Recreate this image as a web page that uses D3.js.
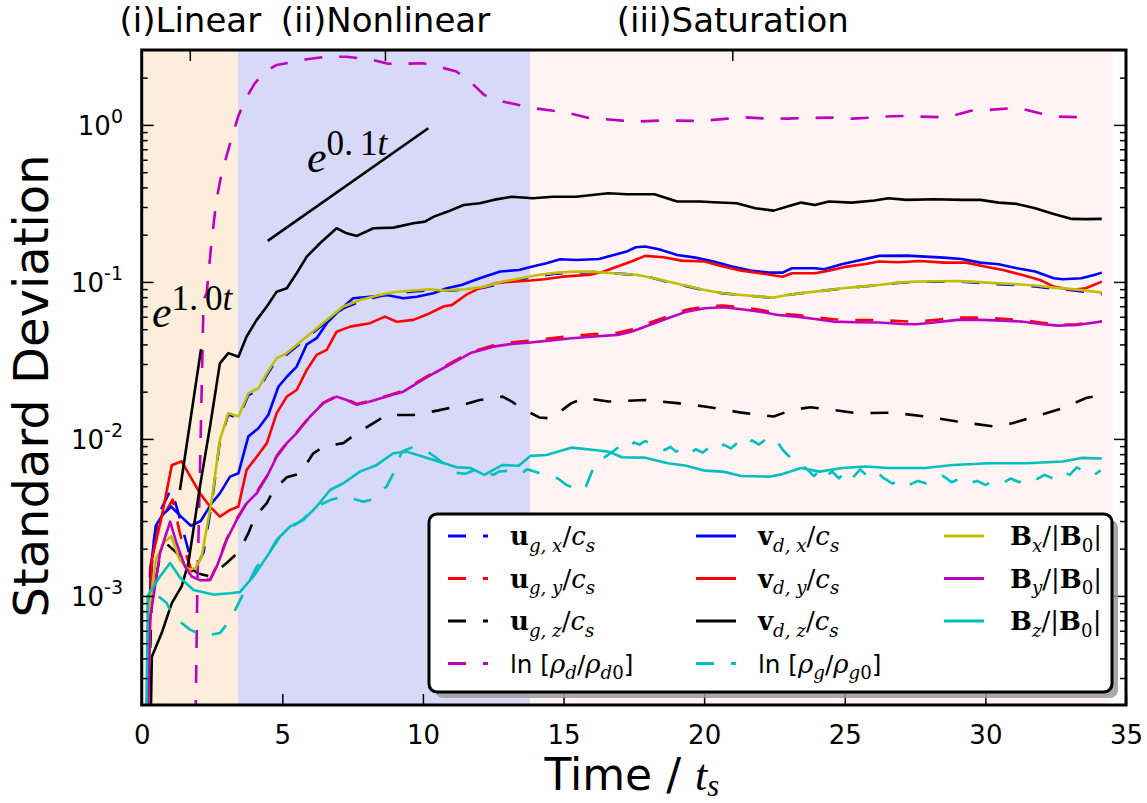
<!DOCTYPE html>
<html><head><meta charset="utf-8">
<script src="https://cdn.jsdelivr.net/npm/d3@7"></script>
<style>body{margin:0;background:#fff}</style>
</head><body><svg id="c" width="1147" height="803"></svg>
<script>
// ---------------- DATA ----------------
const xTicks = [0, 5, 10, 15, 20, 25, 30, 35];
const yExps = [-3, -2, -1, 0];
const phaseNames = ["(i)Linear", "(ii)Nonlinear", "(iii)Saturation"];
const phaseStart = [0, 3.42, 13.81];
const phaseEnd = [3.42, 13.81, 34.53];
const phaseTicks = [1.71, 8.65, 21.0];

const ugX = [[0.15,1e-4],[0.3,0.0012],[0.45,0.0024],[0.7,0.0036],[1.05,0.0048],[1.3,0.0034],[1.5,0.0025],[1.75,0.0017],[2.0,0.0016],[2.2,0.0019],[2.5,0.004],[2.78,0.0097],[3.08,0.0143],[3.44,0.0135],[3.79,0.019],[4.15,0.0205],[4.45,0.0255],[4.8,0.032],[5.16,0.0345],[5.87,0.044],[6.58,0.056],[7.17,0.068],[7.76,0.075],[8.47,0.081],[8.95,0.0845],[9.66,0.087],[10.25,0.0885],[10.96,0.088],[11.53,0.0895],[12.18,0.092],[12.83,0.0985],[13.49,0.104],[14.14,0.109],[14.79,0.113],[15.45,0.115],[16.1,0.1155],[16.75,0.1135],[17.57,0.111],[18.06,0.107],[18.71,0.1],[19.37,0.094],[20.02,0.0885],[20.67,0.0845],[21.33,0.0825],[21.98,0.0805],[22.47,0.0792],[22.96,0.0825],[23.61,0.0855],[24.27,0.088],[24.92,0.091],[25.57,0.0932],[26.22,0.0955],[26.88,0.0985],[27.53,0.1],[28.18,0.1005],[29.0,0.1005],[29.66,0.099],[30.31,0.097],[31.12,0.0955],[31.77,0.0935],[32.43,0.0905],[33.08,0.0885],[33.57,0.0865],[34.14,0.0835]];
const ugY = [[0.15,1e-4],[0.3,0.0015],[0.5,0.0025],[0.8,0.0033],[1.1,0.0041],[1.36,0.0025],[1.55,0.0019],[1.8,0.0014],[2.07,0.00128],[2.43,0.00127],[2.67,0.00156],[3.02,0.0023],[3.38,0.0031],[3.73,0.0039],[4.09,0.0046],[4.45,0.0058],[4.8,0.0078],[5.16,0.0095],[5.51,0.011],[5.99,0.014],[6.46,0.017],[6.93,0.0188],[7.29,0.0179],[7.65,0.0167],[8.12,0.0175],[8.71,0.0188],[9.3,0.0203],[9.78,0.0229],[10.39,0.0266],[11.04,0.0308],[11.69,0.0358],[12.51,0.0395],[13.16,0.0413],[13.82,0.0423],[14.47,0.0436],[15.28,0.0452],[16.1,0.0465],[16.92,0.0475],[17.41,0.0497],[18.06,0.055],[18.71,0.0605],[19.37,0.0665],[20.02,0.0698],[20.67,0.0708],[21.33,0.0688],[21.98,0.0665],[22.63,0.0632],[23.29,0.0615],[23.94,0.0597],[24.59,0.0578],[25.41,0.0572],[26.22,0.0572],[27.04,0.0562],[27.53,0.0558],[28.18,0.0572],[29.0,0.0592],[29.82,0.0592],[30.63,0.0582],[31.29,0.0572],[31.94,0.0552],[32.59,0.0535],[33.25,0.0538],[34.14,0.0562]];
const ugZ = [[0.2,1e-4],[0.35,0.0009],[0.65,0.0018],[0.95,0.0021],[1.36,0.0018],[1.66,0.00154],[2.01,0.00139],[2.43,0.00133],[3.02,0.00162],[3.44,0.0019],[3.79,0.0025],[4.03,0.0032],[4.45,0.0039],[4.68,0.0047],[5.16,0.0057],[5.63,0.006],[6.1,0.0081],[6.46,0.0089],[7.17,0.0094],[7.65,0.0109],[8.24,0.0126],[8.71,0.0142],[9.66,0.0142],[10.55,0.0152],[11.2,0.0161],[12.02,0.0177],[12.83,0.0186],[13.16,0.0173],[13.49,0.0157],[14.14,0.0137],[14.55,0.0135],[15.28,0.0169],[15.77,0.0182],[16.59,0.0173],[17.9,0.0177],[19.04,0.0169],[20.02,0.0161],[21.33,0.0147],[22.47,0.0139],[23.12,0.0153],[23.78,0.0159],[24.59,0.0153],[25.41,0.0146],[26.72,0.0147],[27.86,0.0139],[29.0,0.0129],[30.31,0.012],[30.96,0.0126],[31.77,0.0139],[32.76,0.0157],[33.57,0.0182],[34.14,0.0191]];
const lnRhoD = [[1.9,1e-4],[1.98,0.0012],[2.05,0.0041],[2.17,0.043],[2.2,0.077],[2.31,0.085],[2.49,0.185],[2.66,0.333],[2.84,0.492],[3.08,0.693],[3.25,0.885],[3.43,1.13],[3.67,1.44],[4.02,1.84],[4.38,2.18],[4.8,2.41],[5.27,2.49],[5.86,2.62],[6.57,2.72],[7.28,2.72],[8.23,2.59],[8.76,2.45],[9.29,2.45],[10.0,2.47],[10.55,2.35],[11.19,2.19],[11.61,1.94],[12.18,1.55],[12.83,1.41],[13.41,1.34],[13.9,1.28],[14.63,1.23],[15.12,1.2],[15.86,1.11],[16.43,1.09],[17.08,1.065],[17.57,1.05],[18.39,1.065],[19.04,1.065],[19.69,1.06],[20.18,1.07],[20.84,1.097],[21.33,1.12],[22.14,1.1],[22.96,1.097],[23.78,1.108],[24.59,1.113],[25.25,1.097],[25.9,1.113],[26.39,1.13],[27.04,1.14],[27.7,1.13],[28.35,1.12],[28.84,1.146],[29.49,1.23],[30.14,1.246],[30.96,1.28],[31.29,1.265],[31.94,1.187],[32.59,1.13],[33.33,1.12]];
const vdX = [[0.2,1e-4],[0.32,0.0015],[0.5,0.0028],[0.75,0.0033],[1.05,0.0037],[1.4,0.0032],[1.75,0.0028],[2.1,0.003],[2.49,0.0039],[2.78,0.0045],[3.14,0.00575],[3.44,0.00605],[3.79,0.01035],[4.15,0.0117],[4.5,0.0142],[4.86,0.0215],[5.16,0.0249],[5.51,0.0289],[5.87,0.04],[6.22,0.0438],[6.58,0.0546],[7.05,0.0663],[7.52,0.0787],[8.12,0.0805],[8.71,0.0826],[9.3,0.0787],[9.78,0.0805],[10.37,0.0847],[10.85,0.0912],[11.37,0.0957],[12.02,0.1055],[12.75,0.1164],[13.41,0.1192],[13.9,0.1252],[14.39,0.1315],[14.88,0.1394],[15.45,0.138],[16.26,0.14],[16.92,0.1508],[17.24,0.156],[17.57,0.1663],[17.9,0.168],[18.39,0.1616],[19.04,0.1486],[19.69,0.1428],[20.34,0.1348],[20.99,0.1252],[21.65,0.118],[22.3,0.1146],[22.79,0.1146],[23.12,0.1222],[23.94,0.1222],[24.27,0.1204],[24.92,0.13],[25.57,0.138],[26.22,0.1465],[27.2,0.147],[27.86,0.145],[28.51,0.1428],[29.16,0.14],[29.82,0.1327],[30.47,0.1297],[31.12,0.1222],[31.77,0.1164],[32.43,0.1055],[32.76,0.104],[33.41,0.1055],[33.9,0.111],[34.14,0.1146]];
const vdY = [[0.2,1e-4],[0.23,2.1e-4],[0.36,0.0017],[0.71,0.0032],[1.07,0.0068],[1.42,0.0072],[1.66,0.00605],[2.07,0.00451],[2.43,0.00371],[2.78,0.0032],[3.14,0.00353],[3.44,0.00371],[3.73,0.00635],[4.09,0.0077],[4.45,0.0094],[4.8,0.0146],[5.16,0.0186],[5.51,0.0205],[5.87,0.0275],[6.22,0.0343],[6.58,0.0369],[6.93,0.0482],[7.41,0.0519],[8.12,0.0546],[8.65,0.0601],[9.07,0.0558],[9.66,0.0573],[10.25,0.0632],[10.73,0.0697],[11.04,0.0714],[11.53,0.0826],[12.02,0.0912],[12.59,0.0982],[13.16,0.1005],[13.82,0.102],[14.31,0.104],[14.96,0.108],[15.94,0.111],[16.43,0.1164],[16.92,0.1252],[17.41,0.1348],[17.9,0.1465],[18.55,0.1436],[19.2,0.1367],[20.02,0.1348],[20.67,0.1252],[21.33,0.118],[21.98,0.1136],[22.79,0.108],[23.12,0.1136],[23.94,0.1136],[24.43,0.118],[25.08,0.1252],[25.74,0.13],[26.22,0.1348],[26.88,0.1334],[27.7,0.136],[28.51,0.1327],[29.33,0.1327],[29.98,0.1252],[30.63,0.1192],[31.29,0.111],[31.94,0.103],[32.43,0.0933],[33.08,0.0889],[33.57,0.0912],[34.14,0.1005]];
const vdZ = [[0.3,1e-4],[0.36,4.1e-4],[0.71,5.8e-4],[1.07,9e-4],[1.42,0.00115],[1.66,0.00162],[2.07,0.00497],[2.43,0.012],[2.78,0.0303],[3.08,0.0352],[3.44,0.0334],[3.73,0.0449],[4.09,0.0573],[4.45,0.0697],[4.8,0.0867],[5.16,0.0912],[5.51,0.1136],[5.87,0.145],[6.34,0.1764],[6.93,0.2198],[7.29,0.204],[7.65,0.1963],[8.24,0.2198],[8.95,0.2217],[9.66,0.2366],[10.07,0.2422],[10.39,0.2606],[10.88,0.2805],[11.45,0.309],[12.02,0.317],[12.51,0.333],[13.16,0.349],[13.9,0.341],[14.63,0.349],[15.45,0.349],[16.26,0.362],[16.59,0.367],[17.24,0.362],[18.23,0.362],[19.04,0.325],[19.85,0.325],[20.34,0.322],[21.16,0.317],[21.82,0.2946],[22.47,0.2845],[22.96,0.302],[23.45,0.32],[23.94,0.309],[24.43,0.325],[25.25,0.32],[26.06,0.33],[26.55,0.341],[27.2,0.333],[28.18,0.336],[29.16,0.333],[29.82,0.333],[30.47,0.32],[31.12,0.314],[31.77,0.2946],[32.43,0.271],[33.08,0.252],[33.57,0.251],[34.14,0.252]];
const lnRhoG = [[0.2,1e-4],[0.22,0.001],[0.3,0.0011],[0.89,9e-4],[1.12,7.4e-4],[1.72,6.1e-4],[2.19,5.55e-4],[2.78,5.8e-4],[3.14,7e-4],[3.5,9.4e-4],[4.09,0.00154],[4.45,0.00178],[4.8,0.00227],[5.16,0.00263],[5.63,0.00297],[6.22,0.00371],[6.7,0.00408],[7.17,0.00432],[7.88,0.00398],[8.12,0.00408],[8.71,0.00498],[8.95,0.00605],[9.25,0.0083],[9.66,0.0089],[10.25,0.0081],[10.73,0.007],[11.1,0.0061],[11.5,0.006],[11.8,0.0063],[12.2,0.0062],[12.5,0.0059],[12.7,0.0062],[13.2,0.0063],[13.5,0.006],[13.7,0.0064],[14.1,0.0061],[14.4,0.0059],[14.8,0.0056],[15.1,0.0051],[15.4,0.00485],[15.6,0.0052],[15.8,0.005],[16.1,0.0068],[16.4,0.0075],[16.7,0.0082],[16.9,0.0087],[17.1,0.0093],[17.35,0.0089],[17.5,0.0095],[17.7,0.0092],[17.9,0.0097],[18.1,0.0093],[18.3,0.0089],[18.6,0.0085],[18.8,0.0089],[19.0,0.0083],[19.3,0.0087],[19.5,0.0081],[19.7,0.0086],[19.95,0.0082],[20.2,0.0089],[20.45,0.0085],[20.7,0.0092],[20.95,0.0087],[21.2,0.0095],[21.45,0.0089],[21.7,0.0098],[21.95,0.0092],[22.2,0.01],[22.45,0.0093],[22.6,0.0096],[22.8,0.0085],[23.0,0.0078],[23.2,0.0073],[23.45,0.0069],[23.7,0.0063],[23.9,0.0058],[24.1,0.0063],[24.3,0.0057],[24.55,0.0062],[24.8,0.0056],[25.05,0.0063],[25.3,0.0057],[25.55,0.0064],[25.8,0.0058],[26.1,0.0062],[26.4,0.0056],[26.7,0.0052],[27.0,0.0055],[27.3,0.0051],[27.6,0.0054],[27.9,0.0052],[28.2,0.0055],[28.5,0.0058],[28.8,0.0053],[29.1,0.0056],[29.4,0.0052],[29.7,0.0054],[30.0,0.0051],[30.3,0.0054],[30.6,0.0052],[30.9,0.0056],[31.2,0.0053],[31.5,0.0057],[31.8,0.0055],[32.1,0.0059],[32.4,0.0056],[32.7,0.0062],[33.0,0.0059],[33.25,0.0066],[33.5,0.0062],[33.8,0.0058],[34.1,0.0063]];
const bX = [[0.2,1e-4],[0.3,0.0009],[0.5,0.0017],[0.8,0.0022],[1.05,0.0024],[1.35,0.0017],[1.66,0.00147],[1.9,0.0015],[2.13,0.00178],[2.49,0.00408],[2.78,0.00986],[3.08,0.0146],[3.44,0.0139],[3.79,0.0195],[4.15,0.021],[4.45,0.0262],[4.8,0.0327],[5.16,0.0352],[5.87,0.0449],[6.58,0.0573],[7.17,0.0697],[7.76,0.0768],[8.47,0.0826],[8.95,0.0859],[9.66,0.0881],[10.25,0.0898],[10.7,0.088],[11.53,0.0898],[12.18,0.0933],[12.83,0.1005],[13.49,0.1055],[14.14,0.111],[14.79,0.1146],[15.45,0.1164],[16.1,0.1158],[16.75,0.1136],[17.57,0.111],[18.06,0.1071],[18.71,0.1005],[19.37,0.0944],[20.02,0.0889],[20.67,0.0847],[21.33,0.0826],[21.98,0.0806],[22.47,0.0794],[22.96,0.0826],[23.61,0.0855],[24.27,0.088],[24.92,0.0912],[25.57,0.0933],[26.22,0.0957],[26.88,0.099],[27.53,0.1005],[28.18,0.101],[29.0,0.1012],[29.66,0.1],[30.31,0.0982],[31.12,0.0967],[31.77,0.0948],[32.43,0.092],[33.08,0.0901],[33.57,0.088],[34.14,0.0855]];
const bY = [[0.2,1e-4],[0.29,7e-4],[0.65,0.00187],[1.01,0.00297],[1.24,0.00217],[1.54,0.00154],[1.78,0.00133],[2.07,0.00126],[2.43,0.00126],[2.67,0.00154],[3.02,0.00227],[3.38,0.00305],[3.73,0.00389],[4.09,0.00451],[4.45,0.00575],[4.8,0.0077],[5.16,0.0094],[5.51,0.0109],[5.99,0.0139],[6.46,0.0169],[6.93,0.0186],[7.29,0.0177],[7.65,0.0165],[8.12,0.0173],[8.71,0.0186],[9.3,0.02],[9.78,0.0226],[10.39,0.0262],[11.04,0.0303],[11.69,0.0352],[12.51,0.0387],[13.16,0.0403],[13.82,0.0411],[14.47,0.0423],[15.28,0.0438],[16.1,0.0449],[16.92,0.046],[17.41,0.0482],[18.06,0.0532],[18.71,0.0587],[19.37,0.0647],[20.02,0.068],[20.67,0.069],[21.33,0.067],[21.98,0.0647],[22.63,0.0616],[23.29,0.0601],[23.94,0.0581],[24.59,0.0559],[25.41,0.0553],[26.22,0.0551],[27.04,0.054],[27.53,0.0537],[28.18,0.0551],[29.0,0.0573],[29.82,0.0573],[30.63,0.0567],[31.29,0.0559],[31.94,0.054],[32.59,0.0527],[33.25,0.0532],[34.14,0.0559]];
const bZ = [[0.15,1e-4],[0.22,0.001],[0.29,0.00106],[0.65,0.00133],[1.01,0.00162],[1.36,0.00131],[1.84,0.00109],[2.55,0.00102],[3.14,0.00104],[3.5,0.00106],[3.97,0.00133],[4.45,0.00178],[4.92,0.00239],[5.27,0.00276],[5.75,0.00305],[6.22,0.00371],[6.7,0.00473],[7.17,0.00522],[7.76,0.00619],[8.36,0.00683],[8.95,0.0081],[9.42,0.0083],[10.01,0.0077],[10.55,0.00718],[11.2,0.0066],[11.69,0.00653],[12.18,0.0059],[12.83,0.00683],[13.41,0.00675],[13.82,0.0078],[14.39,0.0079],[15.28,0.0088],[16.1,0.0085],[16.59,0.0083],[17.08,0.00764],[17.9,0.0076],[18.71,0.007],[19.37,0.00675],[20.02,0.00628],[20.67,0.00619],[21.33,0.0058],[22.3,0.00575],[22.79,0.00597],[23.45,0.00653],[24.1,0.00619],[24.92,0.00653],[25.74,0.00667],[26.55,0.00653],[27.86,0.00653],[28.84,0.00683],[30.14,0.007],[31.45,0.007],[32.76,0.00718],[33.41,0.00757],[34.14,0.0075]];
const growthFast = [[1.36,0.00473],[2.11,0.0373]];
const growthSlow = [[4.48,0.1824],[10.19,0.953]];

// ---------------- STYLE / LAYOUT ----------------
const SANS = "'DejaVu Sans', sans-serif";
const SERIF = "'DejaVu Serif', 'Liberation Serif', serif";
const SERIF2 = "'Liberation Serif', serif";
const phaseColors = ["#fdeedb", "#d8d8f9", "#fff3f3"];
const DASH = "18,17";
const W = 1147, H = 803;
const M = {l: 141.7, r: 1126, t: 50, b: 705};

const series = [
  {data: ugX, color: "#0000ff", dash: true,  label: [["u","b"],["g, x","si"],["/","r"],["c","i"],["s","si"]]},
  {data: ugY, color: "#ff0000", dash: true,  label: [["u","b"],["g, y","si"],["/","r"],["c","i"],["s","si"]]},
  {data: ugZ, color: "#000000", dash: true,  label: [["u","b"],["g, z","si"],["/","r"],["c","i"],["s","si"]]},
  {data: lnRhoD, color: "#bf00bf", dash: true, label: [["ln [","sans"],["ρ","i"],["d","si"],["/","sans"],["ρ","i"],["d","si"],["0","sr"],["]","sans"]]},
  {data: vdX, color: "#0000ff", dash: false, label: [["v","b"],["d, x","si"],["/","r"],["c","i"],["s","si"]]},
  {data: vdY, color: "#ff0000", dash: false, label: [["v","b"],["d, y","si"],["/","r"],["c","i"],["s","si"]]},
  {data: vdZ, color: "#000000", dash: false, label: [["v","b"],["d, z","si"],["/","r"],["c","i"],["s","si"]]},
  {data: lnRhoG, color: "#00bfbf", dash: true, label: [["ln [","sans"],["ρ","i"],["g","si"],["/","sans"],["ρ","i"],["g","si"],["0","sr"],["]","sans"]]},
  {data: bX, color: "#bfbf00", dash: false, label: [["B","b"],["x","si"],["/|","r"],["B","b"],["0","sr"],["|","r"]]},
  {data: bY, color: "#bf00bf", dash: false, label: [["B","b"],["y","si"],["/|","r"],["B","b"],["0","sr"],["|","r"]]},
  {data: bZ, color: "#00bfbf", dash: false, label: [["B","b"],["z","si"],["/|","r"],["B","b"],["0","sr"],["|","r"]]}
];

const x = d3.scaleLinear().domain([0, 35]).range([M.l, M.r]);
const y = d3.scaleLog().domain([2.02e-4, 3.0]).range([M.b, M.t]);
const svg = d3.select("#c");
svg.append("rect").attr("width", W).attr("height", H).attr("fill", "#fff");

// rich text helper
function rich(sel, segs, base, opts) {
  opts = opts || {};
  const fam0 = opts.family || SERIF;
  let shift = 0;
  segs.forEach(([t, st]) => {
    let target = 0, fs = base, fam = fam0, fstyle = "normal", fw = "normal";
    if (st === "si" || st === "sr") { target = base * (opts.subShift || 0.25); fs = base * 0.7; }
    if (st === "pi" || st === "pr") { target = -base * 0.38; fs = base * (opts.supScale || 0.72); }
    if (st === "i" || st === "si" || st === "pi") fstyle = "italic";
    if (st === "b") fw = "bold";
    if (st === "sans") { fam = SANS; fs = base * (opts.sansScale || 0.92); }
    sel.append("tspan").text(t)
      .attr("dy", (target - shift).toFixed(2))
      .attr("font-family", fam).attr("font-size", fs)
      .attr("font-style", fstyle).attr("font-weight", fw);
    shift = target;
  });
}

// phases background
svg.append("g").selectAll("rect").data(phaseNames).join("rect")
  .attr("x", (d, i) => x(phaseStart[i]))
  .attr("width", (d, i) => x(phaseEnd[i]) - x(phaseStart[i]))
  .attr("y", M.t).attr("height", M.b - M.t)
  .attr("fill", (d, i) => phaseColors[i]);

svg.append("clipPath").attr("id", "clip").append("rect")
  .attr("x", M.l).attr("y", M.t).attr("width", M.r - M.l).attr("height", M.b - M.t);
const g = svg.append("g").attr("clip-path", "url(#clip)");
const line = d3.line().x(d => x(d[0])).y(d => y(d[1]));

series.forEach(s => {
  g.append("path").attr("d", line(s.data)).attr("fill", "none")
    .attr("stroke", s.color).attr("stroke-width", 2.6)
    .attr("stroke-linejoin", "round")
    .attr("stroke-dasharray", s.dash ? DASH : null);
});
[growthFast, growthSlow].forEach(d => {
  g.append("path").attr("d", line(d)).attr("fill", "none")
    .attr("stroke", "#000").attr("stroke-width", 2.6);
});

// growth labels
const lab1 = svg.append("text").attr("x", 152).attr("y", 327);
rich(lab1, [["e","i"],["1.\u20090","pr"],["t","pi"]], 44, {family: SERIF2, supScale: 0.8});
const lab2 = svg.append("text").attr("x", 307).attr("y", 172);
rich(lab2, [["e","i"],["0.\u20091","pr"],["t","pi"]], 44, {family: SERIF2, supScale: 0.8});

// axes
function styleAxis(sel) {
  sel.select(".domain").remove();
  sel.selectAll(".tick line").attr("stroke", "#000").attr("stroke-width", 1.5);
}
const majors = yExps.map(e => Math.pow(10, e));
const minors = [];
[-4, -3, -2, -1, 0].forEach(e => { for (let m = 2; m <= 9; m++) { const v = m * Math.pow(10, e); if (v > 2.02e-4 && v < 3) minors.push(v); } });

svg.append("g").attr("transform", `translate(0,${M.b})`)
  .call(d3.axisBottom(x).tickValues(xTicks).tickSize(-11).tickPadding(21).tickFormat(d3.format("d")))
  .call(styleAxis)
  .call(s => s.selectAll("text").attr("font-family", SANS).attr("font-size", 26).attr("fill", "#000"));

svg.append("g").attr("transform", `translate(0,${M.t})`)
  .call(d3.axisTop(x).tickValues(phaseTicks).tickSize(-11).tickPadding(18).tickFormat((d, i) => phaseNames[i]))
  .call(styleAxis)
  .call(s => s.selectAll("text").attr("font-family", SANS).attr("font-size", 34).attr("fill", "#000"));

[[d3.axisLeft, M.l], [d3.axisRight, M.r]].forEach(([ax, px]) => {
  svg.append("g").attr("transform", `translate(${px},0)`)
    .call(ax(y).tickValues(majors).tickSize(-12).tickFormat(""))
    .call(styleAxis);
  svg.append("g").attr("transform", `translate(${px},0)`)
    .call(ax(y).tickValues(minors).tickSize(-6).tickFormat(""))
    .call(styleAxis);
});

// y tick labels with superscripts
yExps.forEach(e => {
  const t = svg.append("text").attr("x", 123).attr("y", y(Math.pow(10, e)) + 10)
    .attr("text-anchor", "end").attr("font-family", SANS).attr("fill", "#000");
  t.append("tspan").text("10").attr("font-size", 26);
  t.append("tspan").text(e === 0 ? "0" : "-" + (-e)).attr("font-size", 19).attr("dy", -12);
});

// frame
svg.append("rect").attr("x", M.l).attr("y", M.t).attr("width", M.r - M.l).attr("height", M.b - M.t)
  .attr("fill", "none").attr("stroke", "#000").attr("stroke-width", 3);

// axis labels
const xl = svg.append("text").attr("x", (M.l + M.r) / 2 - 2).attr("y", 790).attr("text-anchor", "middle").attr("fill", "#000");
rich(xl, [["Time / ","sans"],["t","i"],["s","si"]], 44, {family: SERIF2, sansScale: 1.0, subShift: 0.14});
svg.append("text").attr("transform", `translate(48,386) rotate(-90)`)
  .attr("text-anchor", "middle").attr("font-family", SANS).attr("font-size", 48)
  .attr("fill", "#000").text("Standard Deviation");

// legend
const L = {x: 429, y: 514, w: 683, h: 178};
svg.append("rect").attr("x", L.x + 6).attr("y", L.y + 6).attr("width", L.w).attr("height", L.h)
  .attr("rx", 8).attr("fill", "#9a9a9a").attr("opacity", 0.85);
svg.append("rect").attr("x", L.x).attr("y", L.y).attr("width", L.w).attr("height", L.h)
  .attr("rx", 8).attr("fill", "#fff").attr("stroke", "#000").attr("stroke-width", 3);
const nPerCol = [4, 4, 3];
let idx = 0;
nPerCol.forEach((n, c) => {
  for (let r = 0; r < n; r++) {
    const s = series[idx++];
    const hx = 448 + 248 * c, hy = 536 + 42.5 * r;
    svg.append("line").attr("x1", hx).attr("x2", hx + 40).attr("y1", hy).attr("y2", hy)
      .attr("stroke", s.color).attr("stroke-width", 3)
      .attr("stroke-dasharray", s.dash ? DASH : null);
    const t = svg.append("text").attr("x", hx + (c === 2 ? 66 : 62)).attr("y", hy + 9).attr("fill", "#000");
    rich(t, s.label, 26, {sansScale: 0.95});
  }
});
</script></body></html>
